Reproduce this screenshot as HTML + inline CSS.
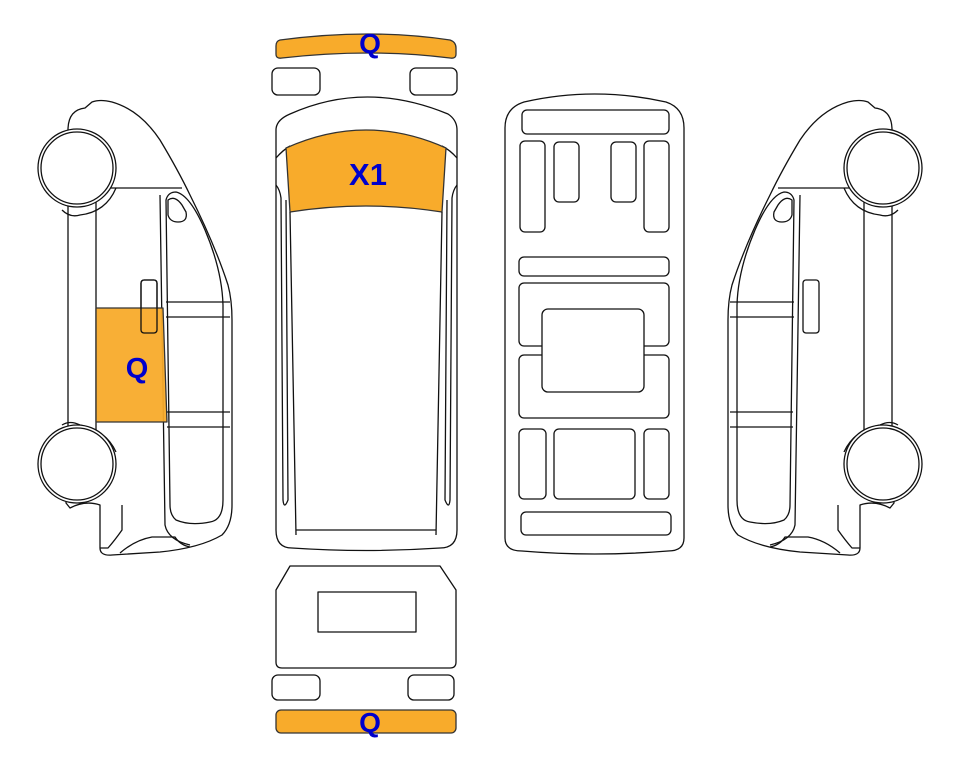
<!DOCTYPE html>
<html><head><meta charset="utf-8"><style>
html,body{margin:0;padding:0;background:#fff;}
svg{display:block;}
text{font-family:"Liberation Sans",Arial,sans-serif;font-weight:bold;fill:#0000cc;}
</style></head><body>
<svg width="963" height="768" viewBox="0 0 963 768" xmlns="http://www.w3.org/2000/svg">
<g fill="none" stroke="#111" stroke-width="1.3" stroke-linejoin="round">

<defs>
<g id="side">
  <path d="M68,205 L68,130 Q68,110 85,108 L92,102 Q100,99 112,102 Q140,110 160,140 Q178,170 190,195 Q215,245 228,285 Q232,300 232,320 L232,505 Q232,525 222,535 Q200,548 160,552 L112,555 Q100,556 100,548 L100,505 Q85,500 70,508 L66,503 L68,430 L68,205 Z" fill="#fff"/>
  <path d="M96,195 L96,432"/>
  <path d="M96,188 L182,188"/>
  <path d="M160,195 L165,525 Q168,540 190,545"/>
  <path d="M166,200 Q168,192 176,192 Q190,195 205,230 Q222,270 223,305 L223,500 Q223,520 210,522 Q190,526 176,520 Q170,515 170,505 L166,200 Z"/>
  <path d="M168,200 Q175,195 182,205 L186,212 Q188,222 178,222 Q170,222 168,215 Z"/>
  <path d="M166,302 L230,302 M166,317 L230,317 M167,412 L230,412 M167,427 L230,427"/>
  <rect x="141" y="280" width="16" height="53" rx="3"/>
  <path d="M62,210 Q70,218 80,215 Q106,212 116,188" />
  <path d="M62,425 Q70,420 80,425 Q106,430 116,452" />
  <circle cx="77" cy="168" r="39" fill="#fff"/>
  <circle cx="77" cy="168" r="36" fill="#fff"/>
  <circle cx="77" cy="464" r="39" fill="#fff"/>
  <circle cx="77" cy="464" r="36" fill="#fff"/>
  <path d="M120,553 Q135,540 152,537 L175,537 Q180,545 190,547"/>
  <path d="M100,548 L108,548 Q115,540 122,530 L122,505"/>
</g>
</defs>

<use href="#side"/>
<use href="#side" transform="translate(960,0) scale(-1,1)"/>

<path d="M96,308 L163,308 L167,422 L96,422 Z" fill="#f8ab2b" fill-opacity="0.95" stroke="#333"/>
<rect x="141" y="280" width="16" height="53" rx="3"/>

<path d="M280,40 Q370,28 450,40 Q456,42 456,48 L456,54 Q456,59 450,58 Q370,48 282,58 Q276,59 276,54 L276,46 Q276,41 280,40 Z" fill="#f8ab2b" stroke="#333"/>
<rect x="272" y="68" width="48" height="27" rx="6"/>
<rect x="410" y="68" width="47" height="27" rx="6"/>
<path d="M290,114 Q366,80 448,114 Q457,120 457,130 L457,530 Q457,548 440,548 Q366,553 292,548 Q276,548 276,530 L276,130 Q276,120 290,114 Z" fill="#fff"/>
<path d="M276,158 Q283,150 290,146 M457,158 Q450,150 442,146"/>
<path d="M286,148 Q366,112 446,148 L442,212 Q366,200 290,212 Z" fill="#f8ab2b" stroke="#333"/>
<path d="M290,212 L296,535 M442,212 L436,535"/>
<path d="M296,530 L436,530"/>
<path d="M276,185 Q280,190 281,198 L283,500 Q284,510 288,500 L286,200 M457,185 Q453,190 452,198 L450,500 Q449,510 445,500 L447,200"/>

<path d="M290,566 L440,566 L456,590 L456,662 Q456,668 450,668 L282,668 Q276,668 276,662 L276,590 Z" fill="#fff"/>
<rect x="318" y="592" width="98" height="40"/>
<rect x="272" y="675" width="48" height="25" rx="6"/>
<rect x="408" y="675" width="46" height="25" rx="6"/>
<rect x="276" y="710" width="180" height="23" rx="5" fill="#f8ab2b" stroke="#333"/>

<path d="M524,102 Q594,86 666,102 Q684,108 684,128 L684,538 Q684,551 668,551 Q594,557 522,551 Q505,551 505,538 L505,128 Q505,108 524,102 Z"/>
<rect x="522" y="110" width="147" height="24" rx="5"/>
<rect x="520" y="141" width="25" height="91" rx="5"/>
<rect x="554" y="142" width="25" height="60" rx="5"/>
<rect x="611" y="142" width="25" height="60" rx="5"/>
<rect x="644" y="141" width="25" height="91" rx="5"/>
<rect x="519" y="257" width="150" height="19" rx="5"/>
<rect x="519" y="283" width="150" height="63" rx="5"/>
<rect x="519" y="355" width="150" height="63" rx="5"/>
<rect x="542" y="309" width="102" height="83" rx="6" fill="#fff"/>
<rect x="519" y="429" width="27" height="70" rx="5"/>
<rect x="554" y="429" width="81" height="70" rx="5"/>
<rect x="644" y="429" width="25" height="70" rx="5"/>
<rect x="521" y="512" width="150" height="23" rx="5"/>
</g>

<text x="370" y="53" font-size="28" text-anchor="middle">Q</text>
<text x="368" y="185" font-size="31" text-anchor="middle">X1</text>
<text x="137" y="378" font-size="29" text-anchor="middle">Q</text>
<text x="370" y="732" font-size="28" text-anchor="middle">Q</text>
</svg>
</body></html>
